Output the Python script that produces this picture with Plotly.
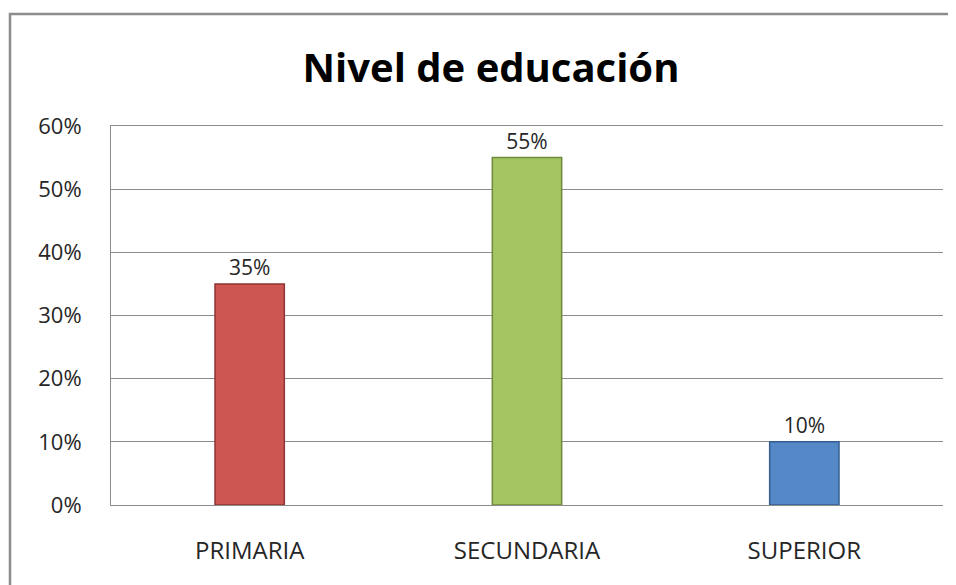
import plotly.graph_objects as go

categories = ["PRIMARIA", "SECUNDARIA", "SUPERIOR"]
values = [0.35, 0.55, 0.10]
labels = ["35%", "55%", "10%"]
colors = ["#CD5552", "#A4C562", "#5488C6"]
edge_colors = ["#8E3432", "#6E8A3A", "#355E90"]
tick_vals = [0, 0.1, 0.2, 0.3, 0.4, 0.5, 0.6]
tick_text = ["0%", "10%", "20%", "30%", "40%", "50%", "60%"]

FONT = "Open Sans"
# page body has an 8px margin; figure is offset by it
OFF = 8
W, H = 956 - OFF, 585 - OFF
PL, PR, PT, PB = 111 - OFF, 943 - OFF, 126 - OFF, 505 - OFF
pw, ph = PR - PL, PB - PT

fig = go.Figure()
fig.add_trace(go.Bar(
    x=categories, y=values, text=labels, textposition="outside",
    textfont=dict(family=FONT, size=21, color="#262626"),
    marker=dict(color=colors, line=dict(color=edge_colors, width=1.5)),
    width=0.25, cliponaxis=False,
))

fig.update_layout(
    width=W, height=H,
    margin=dict(l=PL, r=W - PR, t=PT, b=H - PB),
    paper_bgcolor="white", plot_bgcolor="white",
    showlegend=False,
    title=dict(text="<b>Nivel de educación</b>", x=(491 - OFF) / W, xanchor="center",
               y=1 - (68 - OFF) / H, yanchor="middle",
               font=dict(family=FONT, size=40, color="black")),
    xaxis=dict(showgrid=False, showline=True, mirror=True, linecolor="#8C8C8C",
               linewidth=1, ticks="", ticklabelstandoff=24,
               tickfont=dict(family=FONT, size=24, color="#262626")),
    yaxis=dict(range=[0, 0.6], tickvals=tick_vals, ticktext=tick_text,
               showgrid=True, gridcolor="#8C8C8C", gridwidth=1,
               showline=True, linecolor="#8C8C8C", linewidth=1,
               zeroline=True, zerolinecolor="#8C8C8C", zerolinewidth=1,
               ticks="", ticklabelstandoff=24,
               tickfont=dict(family=FONT, size=22, color="#262626")),
    shapes=[
        dict(type="rect", xref="paper", yref="paper",
             x0=(10 - 111) / pw, x1=(970 - 111) / pw,
             y0=(505 - 600) / ph, y1=(505 - 14) / ph,
             line=dict(color="#8C8C8C", width=2.5), layer="below"),
    ],
)

fig.write_html("out.html")
